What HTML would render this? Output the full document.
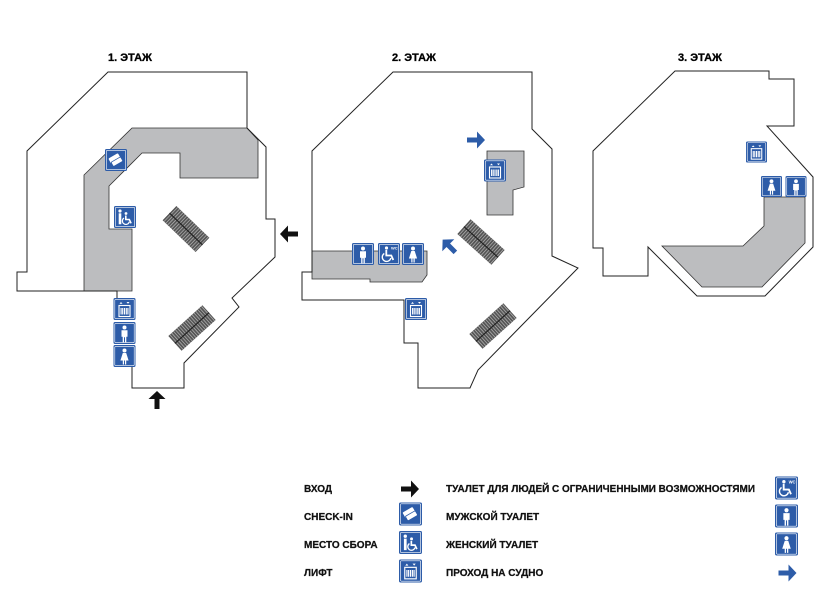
<!DOCTYPE html>
<html><head><meta charset="utf-8"><style>
body{margin:0;background:#fff;}
svg{display:block;}
text{font-family:"Liberation Sans",sans-serif;font-weight:bold;}
</style></head><body>
<svg width="822" height="595" viewBox="0 0 822 595" xmlns="http://www.w3.org/2000/svg">
<defs>
<symbol id="fr" viewBox="0 0 22 22"><rect x="0" y="0" width="22" height="22" rx="1.5" fill="#2d5ca8"/><rect x="1.3" y="1.3" width="19.4" height="19.4" rx="1" fill="none" stroke="#fff" stroke-width="0.6"/></symbol>
<symbol id="man" viewBox="0 0 22 22"><use href="#fr" width="22" height="22"/><circle cx="11" cy="5.5" r="2" fill="#fff"/><path d="M8 8.2h6v6.5h-1.2v5.5h-1.3v-5h-1v5h-1.3v-5.5h-1.2z" fill="#fff"/></symbol>
<symbol id="woman" viewBox="0 0 22 22"><use href="#fr" width="22" height="22"/><circle cx="11" cy="5.5" r="2" fill="#fff"/><path d="M9.3 8h3.4l2.4 7.5h-2.4v4h-1.2v-4h-1v4h-1.2v-4h-2.4z" fill="#fff"/></symbol>
<symbol id="lift" viewBox="0 0 22 22"><use href="#fr" width="22" height="22"/><path d="M7.5 4l1.5 1.8h-3zM14.5 5.8l-1.5-1.8h3z" fill="#fff"/><rect x="5.5" y="7.5" width="11" height="11" fill="none" stroke="#fff" stroke-width="1.1"/><path d="M7.6 10v6.5M9.2 10v6.5M11 10v6.5M12.8 10v6.5M14.4 10v6.5" stroke="#fff" stroke-width="1.1"/></symbol>
<symbol id="chk" viewBox="0 0 22 22"><use href="#fr" width="22" height="22"/><g transform="rotate(-30 11 11)"><rect x="5" y="6" width="11" height="6" rx="1" fill="#fff"/><rect x="5.5" y="10.5" width="11" height="5" rx="1" fill="#fff" stroke="#2d5ca8" stroke-width="0.8"/></g></symbol>
<symbol id="wc" viewBox="0 0 22 22"><use href="#fr" width="22" height="22"/><circle cx="8.5" cy="5" r="1.6" fill="#fff"/><path d="M8.3 7v5.5h5l2 4.5" fill="none" stroke="#fff" stroke-width="1.8"/><path d="M6.3 10.5a4.3 4.3 0 1 0 6.5 4.5" fill="none" stroke="#fff" stroke-width="1.4"/><text x="13" y="6.5" font-size="4" fill="#fff">WC</text></symbol>
<symbol id="asm" viewBox="0 0 22 22"><use href="#fr" width="22" height="22"/><circle cx="6" cy="5" r="1.6" fill="#fff"/><path d="M4.7 7.3h2.6v11h-2.6z" fill="#fff"/><circle cx="12" cy="7.5" r="1.4" fill="#fff"/><path d="M11.8 9.5v4h3.5l1.8 3.8" fill="none" stroke="#fff" stroke-width="1.6"/><path d="M10 12a3.5 3.5 0 1 0 5.3 3.8" fill="none" stroke="#fff" stroke-width="1.2"/></symbol>
<symbol id="esc" viewBox="0 0 46 20"><rect x="0" y="0" width="46" height="20" fill="#555"/><g stroke="#aaa" stroke-width="0.8"><path d="M2 0v20M4.5 0v20M7 0v20M9.5 0v20M12 0v20M14.5 0v20M17 0v20M19.5 0v20M22 0v20M24.5 0v20M27 0v20M29.5 0v20M32 0v20M34.5 0v20M37 0v20M39.5 0v20M42 0v20M44.5 0v20"/></g><path d="M0 10h46" stroke="#222" stroke-width="1.2"/></symbol>
<symbol id="barr" viewBox="0 0 20 20"><path d="M1 7.5h10v-6l8 8.5-8 8.5v-6h-10z" fill="#2d5ca8"/></symbol>
<symbol id="karr" viewBox="0 0 20 20"><path d="M1 7.5h10v-6l8 8.5-8 8.5v-6h-10z" fill="#111"/></symbol>
</defs>

<!-- titles -->
<g font-size="11" stroke="#000" stroke-width="0.3">
<text x="108" y="61">1. ЭТАЖ</text>
<text x="392" y="61">2. ЭТАЖ</text>
<text x="678" y="61">3. ЭТАЖ</text>
</g>

<!-- FLOOR 1 -->
<path d="M132 128H247L258 140V178H180V153H142L109 186V229H132V291H84V175Z" fill="#bcbdbf" stroke="#333" stroke-width="0.8"/>
<path d="M117 298V291H17V272H27V151L108 72H247V128L266 147V219H275V257L232 298L239 307L184 363V388H132V367" fill="none" stroke="#222" stroke-width="1"/>
<use href="#chk" x="105" y="149" width="22" height="22"/>
<use href="#asm" x="114" y="206" width="22" height="22"/>
<use href="#lift" x="113" y="298" width="23" height="22"/>
<use href="#man" x="113" y="322" width="23" height="22"/>
<use href="#woman" x="113" y="345" width="23" height="22"/>
<use href="#esc" x="-23" y="-10" width="46" height="20" transform="translate(186 229) rotate(44)"/>
<use href="#esc" x="-23" y="-10" width="46" height="20" transform="translate(192 328) rotate(-42)"/>
<use href="#karr" x="-10" y="-10" width="20" height="20" transform="translate(289 234) rotate(180)"/>
<use href="#karr" x="-10" y="-10" width="20" height="20" transform="translate(157 400) rotate(-90)"/>

<!-- FLOOR 2 -->
<path d="M312 251H427V275L422 282H370V279H312Z" fill="#bcbdbf" stroke="#333" stroke-width="0.8"/>
<path d="M487 151H524V187L513 190V215H487Z" fill="#bcbdbf" stroke="#333" stroke-width="0.8"/>
<path d="M393 72H532V129L552 149V256L578 268L478 370L470 388H418V343H404V300H302V272H312V151Z" fill="none" stroke="#222" stroke-width="1"/>
<use href="#lift" x="484" y="159" width="22" height="23"/>
<use href="#man" x="352" y="243" width="22" height="22"/>
<use href="#wc" x="378" y="243" width="22" height="22"/>
<use href="#woman" x="402" y="243" width="22" height="22"/>
<use href="#lift" x="405" y="298" width="22" height="22"/>
<use href="#esc" x="-23" y="-10" width="46" height="20" transform="translate(481 242) rotate(42)"/>
<use href="#esc" x="-23" y="-10" width="46" height="20" transform="translate(493 326) rotate(-42)"/>
<use href="#barr" x="-10" y="-10" width="20" height="20" transform="translate(476 140)"/>
<use href="#barr" x="-10" y="-10" width="20" height="20" transform="translate(449 246) rotate(-135)"/>

<!-- FLOOR 3 -->
<path d="M764 197V226L743 246H662L702 287H762L805 243V197Z" fill="#bcbdbf" stroke="#333" stroke-width="0.8"/>
<path d="M675 71H769V79H794V126H767L813 177V247L765 296H697L648 247V276H603V248H593V151Z" fill="none" stroke="#222" stroke-width="1"/>
<use href="#lift" x="746" y="141" width="21" height="22"/>
<use href="#woman" x="761" y="176" width="21" height="21"/>
<use href="#man" x="785" y="176" width="22" height="21"/>

<!-- LEGEND -->
<g font-size="10" fill="#111" stroke="#111" stroke-width="0.25">
<text x="304" y="492">ВХОД</text>
<text x="304" y="520">CHECK-IN</text>
<text x="304" y="548">МЕСТО СБОРА</text>
<text x="304" y="576">ЛИФТ</text>
<text x="446" y="492" textLength="309" lengthAdjust="spacingAndGlyphs">ТУАЛЕТ ДЛЯ ЛЮДЕЙ С ОГРАНИЧЕННЫМИ ВОЗМОЖНОСТЯМИ</text>
<text x="446" y="520">МУЖСКОЙ ТУАЛЕТ</text>
<text x="446" y="548">ЖЕНСКИЙ ТУАЛЕТ</text>
<text x="446" y="576">ПРОХОД НА СУДНО</text>
</g>
<use href="#karr" x="399" y="479" width="22" height="20"/>
<use href="#chk" x="399" y="502" width="23" height="24"/>
<use href="#asm" x="399" y="530" width="23" height="25"/>
<use href="#lift" x="399" y="558" width="23" height="26"/>
<use href="#wc" x="775" y="476" width="23" height="24"/>
<use href="#man" x="775" y="504" width="23" height="24"/>
<use href="#woman" x="775" y="532" width="23" height="24"/>
<use href="#barr" x="777" y="563" width="21" height="20"/>
</svg>
</body></html>
